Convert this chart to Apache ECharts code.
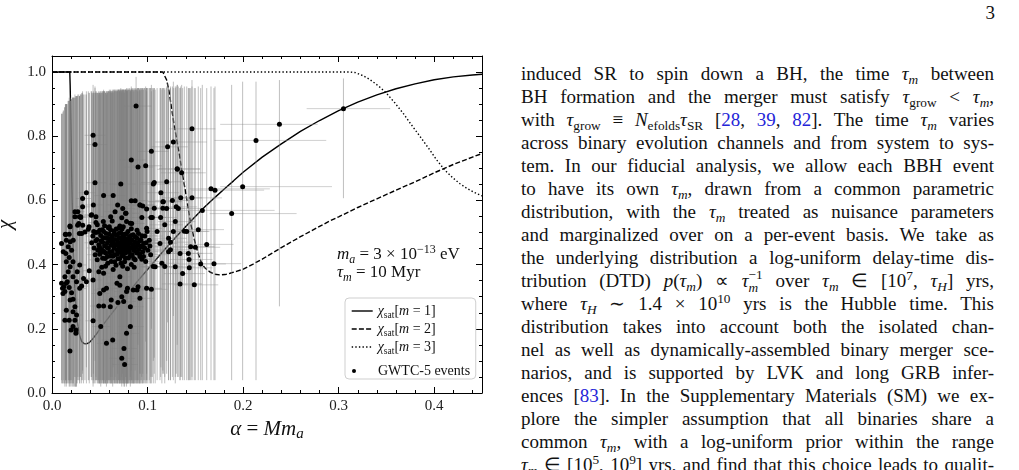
<!DOCTYPE html>
<html>
<head>
<meta charset="utf-8">
<script src="https://cdn.jsdelivr.net/npm/echarts@6/dist/echarts.min.js"></script>
<style>
html, body { margin: 0; padding: 0; background: #fff; }
#page { position: relative; width: 1019px; height: 470px; overflow: hidden; }
#chart { position: absolute; left: 0; top: 0; width: 500px; height: 470px; }
#pagenum { position: absolute; right: 24px; top: 2px; font: 19px 'Liberation Serif', serif; color: #111; }
#text { position: absolute; left: 521px; top: 62px; width: 473px; font-family: 'Liberation Serif', serif; font-size: 19px; color: #111; }
.ln { height: 23px; line-height: 23px; white-space: nowrap; }
.ln sub { font-size: 70%; vertical-align: -0.28em; line-height: 0; }
.ln sup { font-size: 70%; vertical-align: 0.5em; line-height: 0; }
.ln .c { color: #2424d8; }
.st { display: inline-block; vertical-align: -0.35em; font-size: 70%; line-height: 0.95em; }
.st span { display: block; }
</style>
</head>
<body>
<div id="page">
  <div id="chart"></div>
  <div id="pagenum">3</div>
  <div id="text"></div>
</div>
<script>
var FONT = "'Liberation Serif', 'DejaVu Serif', serif";

// saturation curves chi_sat(alpha)
var m1Curve = [[0, 1], [0.0186, 1], [0.0190, 0.96], [0.0197, 0.85], [0.0204, 0.72], [0.0211, 0.59],
  [0.0218, 0.48], [0.0228, 0.40], [0.0240, 0.32], [0.0255, 0.255], [0.0272, 0.205], [0.0292, 0.175],
  [0.0312, 0.160], [0.0335, 0.154], [0.0360, 0.153], [0.0390, 0.157], [0.0430, 0.170], [0.0470, 0.186],
  [0.052, 0.207], [0.06, 0.238], [0.07, 0.276], [0.08, 0.313], [0.09, 0.350], [0.10, 0.385],
  [0.11, 0.420], [0.12, 0.454], [0.13, 0.487], [0.14, 0.519], [0.15, 0.550], [0.16, 0.580],
  [0.17, 0.608], [0.18, 0.635], [0.19, 0.661], [0.20, 0.688], [0.22, 0.735], [0.24, 0.776],
  [0.26, 0.815], [0.28, 0.849], [0.30, 0.880], [0.32, 0.906], [0.34, 0.929], [0.36, 0.948],
  [0.38, 0.963], [0.40, 0.976], [0.42, 0.985], [0.44, 0.991], [0.45, 0.993]];
var m2Curve = [[0, 1], [0.116, 1], [0.118, 0.995], [0.120, 0.975], [0.1225, 0.94], [0.125, 0.89],
  [0.1275, 0.84], [0.1305, 0.79], [0.1335, 0.74], [0.1357, 0.695], [0.139, 0.64], [0.142, 0.585],
  [0.145, 0.53], [0.148, 0.49], [0.151, 0.455], [0.154, 0.425], [0.1566, 0.404], [0.160, 0.390],
  [0.1653, 0.377], [0.170, 0.370], [0.1758, 0.368], [0.181, 0.369], [0.1863, 0.373], [0.193, 0.379],
  [0.2002, 0.386], [0.21, 0.401], [0.22, 0.417], [0.23, 0.435], [0.24, 0.453], [0.25, 0.470],
  [0.26, 0.487], [0.27, 0.503], [0.28, 0.519], [0.29, 0.535], [0.30, 0.549], [0.32, 0.578],
  [0.34, 0.605], [0.36, 0.632], [0.38, 0.658], [0.40, 0.686], [0.42, 0.712], [0.44, 0.735], [0.45, 0.746]];
var m3Curve = [[0, 1], [0.312, 1], [0.318, 0.998], [0.3258, 0.988], [0.332, 0.978], [0.338, 0.965],
  [0.344, 0.951], [0.350, 0.934], [0.3585, 0.905], [0.3676, 0.871], [0.376, 0.836], [0.385, 0.800],
  [0.394, 0.763], [0.4026, 0.726], [0.411, 0.695], [0.420, 0.669], [0.427, 0.652], [0.434, 0.638],
  [0.442, 0.625], [0.45, 0.614]];

// GWTC-5 events: [alpha, chi, alphaLow, alphaHigh, chiLow, chiHigh]
var eventsUpper = [
  [0.088, 0.894, 0.075, 0.104, 0.62, 0.985], [0.043, 0.803, 0.034, 0.056, 0.25, 0.96],
  [0.045, 0.774, 0.036, 0.058, 0.22, 0.955], [0.045, 0.655, 0.036, 0.057, 0.10, 0.95],
  [0.072, 0.651, 0.060, 0.088, 0.12, 0.95], [0.083, 0.726, 0.070, 0.098, 0.18, 0.955],
  [0.090, 0.704, 0.076, 0.106, 0.15, 0.95], [0.098, 0.708, 0.084, 0.115, 0.16, 0.955],
  [0.104, 0.753, 0.090, 0.122, 0.20, 0.96], [0.121, 0.767, 0.104, 0.142, 0.22, 0.965],
  [0.127, 0.782, 0.108, 0.162, 0.24, 0.97], [0.131, 0.699, 0.112, 0.155, 0.15, 0.96],
  [0.106, 0.651, 0.092, 0.124, 0.10, 0.95], [0.107, 0.656, 0.093, 0.125, 0.11, 0.95],
  [0.120, 0.658, 0.103, 0.140, 0.10, 0.955], [0.114, 0.624, 0.099, 0.133, 0.08, 0.95],
  [0.116, 0.596, 0.101, 0.136, 0.07, 0.95], [0.036, 0.624, 0.028, 0.046, 0.08, 0.94],
  [0.032, 0.606, 0.025, 0.041, 0.07, 0.94], [0.054, 0.615, 0.044, 0.066, 0.08, 0.945],
  [0.064, 0.615, 0.053, 0.077, 0.08, 0.945], [0.083, 0.599, 0.071, 0.097, 0.07, 0.945],
  [0.087, 0.599, 0.075, 0.101, 0.07, 0.945], [0.092, 0.586, 0.079, 0.107, 0.06, 0.945],
  [0.095, 0.583, 0.082, 0.110, 0.06, 0.945], [0.107, 0.576, 0.093, 0.124, 0.06, 0.95],
  [0.116, 0.576, 0.100, 0.134, 0.06, 0.95], [0.130, 0.580, 0.112, 0.152, 0.06, 0.955],
  [0.105, 0.547, 0.091, 0.122, 0.05, 0.95], [0.094, 0.547, 0.081, 0.109, 0.05, 0.945],
  [0.077, 0.560, 0.065, 0.091, 0.05, 0.945], [0.073, 0.546, 0.062, 0.086, 0.05, 0.945],
  [0.066, 0.565, 0.055, 0.079, 0.05, 0.945], [0.074, 0.575, 0.063, 0.087, 0.06, 0.945],
  [0.078, 0.534, 0.066, 0.092, 0.05, 0.94], [0.082, 0.529, 0.070, 0.096, 0.05, 0.94],
  [0.063, 0.536, 0.053, 0.075, 0.05, 0.94], [0.055, 0.521, 0.046, 0.066, 0.04, 0.94],
  [0.046, 0.531, 0.038, 0.056, 0.04, 0.94], [0.046, 0.549, 0.038, 0.056, 0.05, 0.94],
  [0.041, 0.554, 0.033, 0.050, 0.05, 0.94], [0.030, 0.549, 0.024, 0.038, 0.05, 0.93],
  [0.027, 0.565, 0.021, 0.034, 0.05, 0.93], [0.024, 0.549, 0.019, 0.031, 0.05, 0.93],
  [0.032, 0.580, 0.025, 0.040, 0.06, 0.935], [0.028, 0.528, 0.022, 0.035, 0.04, 0.93],
  [0.019, 0.518, 0.015, 0.025, 0.04, 0.92], [0.014, 0.495, 0.011, 0.019, 0.04, 0.90],
  [0.018, 0.495, 0.014, 0.023, 0.04, 0.92], [0.038, 0.510, 0.031, 0.047, 0.04, 0.94],
  [0.031, 0.497, 0.025, 0.039, 0.04, 0.935], [0.050, 0.507, 0.041, 0.061, 0.04, 0.94],
  [0.060, 0.518, 0.050, 0.072, 0.04, 0.94], [0.070, 0.513, 0.059, 0.083, 0.04, 0.945],
  [0.089, 0.507, 0.076, 0.104, 0.04, 0.945], [0.099, 0.513, 0.085, 0.115, 0.04, 0.95],
  [0.110, 0.503, 0.095, 0.127, 0.04, 0.95], [0.118, 0.524, 0.102, 0.137, 0.05, 0.95],
  [0.129, 0.534, 0.111, 0.150, 0.05, 0.955], [0.0433, 0.586, 0.035, 0.053, 0.06, 0.94],
  [0.0687, 0.586, 0.057, 0.081, 0.06, 0.945], [0.0774, 0.560, 0.065, 0.091, 0.05, 0.945],
  [0.0921, 0.586, 0.078, 0.107, 0.06, 0.945], [0.099, 0.573, 0.085, 0.115, 0.06, 0.95],
  [0.1165, 0.596, 0.100, 0.135, 0.06, 0.95], [0.120, 0.575, 0.103, 0.139, 0.06, 0.95],
  [0.1137, 0.547, 0.098, 0.131, 0.05, 0.95], [0.1036, 0.547, 0.089, 0.120, 0.05, 0.95],
  [0.0834, 0.528, 0.071, 0.097, 0.04, 0.945], [0.0746, 0.518, 0.063, 0.088, 0.04, 0.945],
  [0.0614, 0.549, 0.051, 0.073, 0.05, 0.94], [0.0537, 0.534, 0.044, 0.064, 0.04, 0.94],
  [0.0415, 0.555, 0.034, 0.050, 0.05, 0.94], [0.0387, 0.518, 0.031, 0.047, 0.04, 0.935]
];
var eventsWide = [
  [0.1465, 0.823, 0.123, 0.171, 0.04, 0.975], [0.2135, 0.787, 0.170, 0.287, 0.04, 0.97],
  [0.238, 0.837, 0.176, 0.278, 0.27, 0.975], [0.1312, 0.697, 0.110, 0.155, 0.05, 0.96],
  [0.1357, 0.686, 0.114, 0.161, 0.05, 0.96], [0.1664, 0.636, 0.144, 0.228, 0.04, 0.955],
  [0.1706, 0.632, 0.146, 0.222, 0.04, 0.955], [0.1995, 0.643, 0.176, 0.293, 0.04, 0.97],
  [0.1347, 0.608, 0.115, 0.157, 0.05, 0.955], [0.1465, 0.608, 0.126, 0.178, 0.05, 0.955],
  [0.126, 0.600, 0.108, 0.147, 0.05, 0.955], [0.1322, 0.575, 0.113, 0.155, 0.05, 0.955],
  [0.1573, 0.569, 0.130, 0.233, 0.04, 0.96], [0.188, 0.559, 0.165, 0.256, 0.04, 0.96],
  [0.1385, 0.504, 0.118, 0.165, 0.04, 0.955], [0.1531, 0.509, 0.130, 0.180, 0.04, 0.955],
  [0.1451, 0.456, 0.124, 0.170, 0.04, 0.95], [0.1500, 0.454, 0.128, 0.176, 0.04, 0.95],
  [0.1619, 0.463, 0.139, 0.190, 0.04, 0.95], [0.134, 0.435, 0.115, 0.158, 0.04, 0.95],
  [0.1427, 0.435, 0.122, 0.168, 0.04, 0.95], [0.1434, 0.416, 0.123, 0.168, 0.04, 0.95],
  [0.1556, 0.402, 0.133, 0.182, 0.04, 0.95], [0.1695, 0.403, 0.146, 0.198, 0.04, 0.95],
  [0.1437, 0.390, 0.123, 0.168, 0.04, 0.95], [0.1367, 0.372, 0.117, 0.160, 0.04, 0.95],
  [0.134, 0.340, 0.115, 0.157, 0.04, 0.95], [0.1489, 0.337, 0.128, 0.174, 0.04, 0.95],
  [0.124, 0.470, 0.106, 0.145, 0.04, 0.955], [0.305, 0.886, 0.2665, 0.354, 0.607, 0.98],
  [0.099, 0.326, 0.085, 0.115, 0.03, 0.94], [0.104, 0.323, 0.089, 0.121, 0.03, 0.94],
  [0.106, 0.394, 0.091, 0.123, 0.03, 0.945], [0.115, 0.404, 0.099, 0.133, 0.03, 0.945],
  [0.118, 0.394, 0.101, 0.137, 0.03, 0.945], [0.122, 0.482, 0.105, 0.141, 0.04, 0.95],
  [0.127, 0.503, 0.109, 0.147, 0.04, 0.95], [0.113, 0.466, 0.097, 0.131, 0.04, 0.95],
  [0.122, 0.440, 0.105, 0.141, 0.04, 0.95], [0.141, 0.503, 0.121, 0.164, 0.04, 0.955],
  [0.129, 0.393, 0.111, 0.150, 0.03, 0.95], [0.108, 0.393, 0.093, 0.125, 0.03, 0.945],
  [0.089, 0.321, 0.076, 0.103, 0.03, 0.94], [0.124, 0.446, 0.107, 0.144, 0.04, 0.95]
];
var eventsLow = [
  [0.039, 0.381, 0.032, 0.047, 0.03, 0.935], [0.033, 0.357, 0.027, 0.040, 0.03, 0.93],
  [0.036, 0.347, 0.029, 0.044, 0.03, 0.93], [0.043, 0.352, 0.035, 0.052, 0.03, 0.935],
  [0.049, 0.378, 0.040, 0.058, 0.03, 0.935], [0.054, 0.373, 0.044, 0.064, 0.03, 0.935],
  [0.057, 0.326, 0.047, 0.068, 0.03, 0.935], [0.054, 0.321, 0.044, 0.064, 0.03, 0.935],
  [0.050, 0.310, 0.041, 0.060, 0.03, 0.935], [0.049, 0.271, 0.040, 0.058, 0.03, 0.93],
  [0.054, 0.271, 0.044, 0.064, 0.03, 0.93], [0.061, 0.269, 0.050, 0.072, 0.03, 0.935],
  [0.062, 0.290, 0.051, 0.074, 0.03, 0.935], [0.069, 0.282, 0.057, 0.082, 0.03, 0.94],
  [0.075, 0.285, 0.062, 0.088, 0.03, 0.94], [0.073, 0.300, 0.060, 0.086, 0.03, 0.94],
  [0.068, 0.342, 0.056, 0.080, 0.03, 0.94], [0.071, 0.362, 0.059, 0.084, 0.03, 0.94],
  [0.078, 0.316, 0.065, 0.092, 0.03, 0.94], [0.085, 0.321, 0.071, 0.100, 0.03, 0.94],
  [0.090, 0.331, 0.076, 0.105, 0.03, 0.94], [0.092, 0.295, 0.078, 0.107, 0.03, 0.94],
  [0.082, 0.269, 0.069, 0.096, 0.03, 0.94], [0.079, 0.326, 0.066, 0.093, 0.03, 0.94],
  [0.071, 0.336, 0.059, 0.084, 0.03, 0.94], [0.043, 0.225, 0.035, 0.052, 0.02, 0.93],
  [0.051, 0.207, 0.042, 0.061, 0.02, 0.93], [0.057, 0.155, 0.047, 0.068, 0.02, 0.93],
  [0.0635, 0.165, 0.052, 0.076, 0.02, 0.935], [0.073, 0.108, 0.060, 0.087, 0.02, 0.935],
  [0.076, 0.089, 0.063, 0.090, 0.02, 0.935], [0.0753, 0.139, 0.062, 0.089, 0.02, 0.935],
  [0.078, 0.186, 0.065, 0.092, 0.02, 0.94], [0.082, 0.207, 0.069, 0.096, 0.02, 0.94]
];
var eventsLeft = [
  [0.015, 0.476, 0.011, 0.020, 0.04, 0.90], [0.019, 0.471, 0.015, 0.024, 0.04, 0.91],
  [0.017, 0.456, 0.013, 0.022, 0.04, 0.91], [0.0145, 0.435, 0.011, 0.019, 0.04, 0.90],
  [0.018, 0.422, 0.014, 0.023, 0.04, 0.91], [0.0205, 0.445, 0.016, 0.026, 0.04, 0.915],
  [0.015, 0.409, 0.011, 0.020, 0.03, 0.90], [0.019, 0.393, 0.015, 0.024, 0.03, 0.91],
  [0.017, 0.378, 0.013, 0.022, 0.03, 0.91], [0.0135, 0.362, 0.010, 0.018, 0.03, 0.89],
  [0.016, 0.347, 0.012, 0.021, 0.03, 0.90], [0.0124, 0.331, 0.010, 0.016, 0.03, 0.88],
  [0.018, 0.329, 0.014, 0.023, 0.03, 0.91], [0.0205, 0.312, 0.016, 0.026, 0.03, 0.915],
  [0.015, 0.342, 0.011, 0.020, 0.03, 0.90], [0.022, 0.362, 0.017, 0.028, 0.03, 0.92],
  [0.0257, 0.347, 0.020, 0.032, 0.03, 0.925], [0.029, 0.326, 0.023, 0.036, 0.03, 0.925],
  [0.031, 0.333, 0.025, 0.038, 0.03, 0.93], [0.0264, 0.378, 0.021, 0.033, 0.03, 0.925],
  [0.029, 0.399, 0.023, 0.036, 0.03, 0.925], [0.022, 0.409, 0.017, 0.028, 0.03, 0.92],
  [0.0135, 0.316, 0.010, 0.018, 0.03, 0.89], [0.019, 0.290, 0.015, 0.024, 0.03, 0.91],
  [0.022, 0.292, 0.017, 0.028, 0.03, 0.92], [0.024, 0.269, 0.019, 0.030, 0.02, 0.92],
  [0.022, 0.253, 0.017, 0.028, 0.02, 0.92], [0.015, 0.258, 0.011, 0.020, 0.02, 0.90],
  [0.0257, 0.243, 0.020, 0.032, 0.02, 0.925], [0.024, 0.227, 0.019, 0.030, 0.02, 0.92],
  [0.0135, 0.227, 0.010, 0.018, 0.02, 0.89], [0.018, 0.227, 0.014, 0.023, 0.02, 0.91],
  [0.022, 0.207, 0.017, 0.028, 0.02, 0.92], [0.025, 0.196, 0.020, 0.031, 0.02, 0.925],
  [0.020, 0.196, 0.016, 0.025, 0.02, 0.915], [0.025, 0.186, 0.020, 0.031, 0.02, 0.925],
  [0.0188, 0.131, 0.015, 0.024, 0.02, 0.91], [0.010, 0.342, 0.008, 0.013, 0.03, 0.87],
  [0.011, 0.326, 0.008, 0.014, 0.03, 0.87], [0.0115, 0.310, 0.009, 0.015, 0.03, 0.875],
  [0.0143, 0.494, 0.011, 0.019, 0.04, 0.90], [0.0188, 0.520, 0.015, 0.024, 0.04, 0.91],
  [0.024, 0.565, 0.019, 0.030, 0.05, 0.92], [0.0268, 0.523, 0.021, 0.033, 0.04, 0.925],
  [0.0286, 0.549, 0.023, 0.035, 0.05, 0.925], [0.0321, 0.523, 0.026, 0.040, 0.04, 0.93],
  [0.030, 0.547, 0.024, 0.037, 0.05, 0.93], [0.0345, 0.502, 0.028, 0.042, 0.04, 0.93],
  [0.0286, 0.497, 0.023, 0.035, 0.04, 0.925], [0.0222, 0.476, 0.017, 0.028, 0.04, 0.92],
  [0.010, 0.466, 0.008, 0.013, 0.04, 0.87], [0.0118, 0.440, 0.009, 0.015, 0.04, 0.88]
];
var eventsCluster = [
  [0.047, 0.478, 0.039, 0.057, 0.04, 0.935], [0.049, 0.462, 0.040, 0.059, 0.04, 0.935],
  [0.051, 0.491, 0.042, 0.062, 0.04, 0.94], [0.052, 0.447, 0.043, 0.063, 0.03, 0.935],
  [0.053, 0.470, 0.044, 0.064, 0.04, 0.94], [0.054, 0.503, 0.045, 0.065, 0.04, 0.94],
  [0.055, 0.458, 0.045, 0.067, 0.03, 0.94], [0.056, 0.436, 0.046, 0.068, 0.03, 0.935],
  [0.057, 0.482, 0.047, 0.069, 0.04, 0.94], [0.058, 0.468, 0.048, 0.070, 0.04, 0.94],
  [0.059, 0.451, 0.049, 0.071, 0.03, 0.94], [0.060, 0.495, 0.050, 0.072, 0.04, 0.945],
  [0.061, 0.427, 0.050, 0.074, 0.03, 0.94], [0.061, 0.474, 0.051, 0.073, 0.04, 0.94],
  [0.062, 0.460, 0.052, 0.074, 0.03, 0.94], [0.063, 0.441, 0.052, 0.076, 0.03, 0.94],
  [0.063, 0.487, 0.053, 0.075, 0.04, 0.945], [0.064, 0.468, 0.053, 0.077, 0.04, 0.94],
  [0.065, 0.452, 0.054, 0.078, 0.03, 0.94], [0.065, 0.505, 0.054, 0.078, 0.04, 0.945],
  [0.066, 0.431, 0.055, 0.079, 0.03, 0.94], [0.066, 0.478, 0.055, 0.079, 0.04, 0.945],
  [0.067, 0.462, 0.056, 0.080, 0.03, 0.94], [0.068, 0.446, 0.057, 0.081, 0.03, 0.94],
  [0.068, 0.492, 0.057, 0.081, 0.04, 0.945], [0.069, 0.470, 0.057, 0.083, 0.04, 0.945],
  [0.069, 0.418, 0.057, 0.083, 0.03, 0.94], [0.070, 0.457, 0.058, 0.084, 0.03, 0.945],
  [0.070, 0.483, 0.058, 0.084, 0.04, 0.945], [0.071, 0.439, 0.059, 0.085, 0.03, 0.94],
  [0.071, 0.466, 0.059, 0.085, 0.04, 0.945], [0.072, 0.499, 0.060, 0.086, 0.04, 0.945],
  [0.072, 0.450, 0.060, 0.086, 0.03, 0.945], [0.073, 0.475, 0.061, 0.087, 0.04, 0.945],
  [0.073, 0.427, 0.061, 0.087, 0.03, 0.94], [0.074, 0.461, 0.062, 0.088, 0.03, 0.945],
  [0.074, 0.488, 0.062, 0.088, 0.04, 0.945], [0.075, 0.444, 0.063, 0.089, 0.03, 0.945],
  [0.075, 0.470, 0.063, 0.089, 0.04, 0.945], [0.076, 0.455, 0.064, 0.090, 0.03, 0.945],
  [0.076, 0.409, 0.064, 0.090, 0.03, 0.94], [0.077, 0.481, 0.065, 0.091, 0.04, 0.945],
  [0.077, 0.436, 0.065, 0.091, 0.03, 0.945], [0.078, 0.463, 0.066, 0.092, 0.03, 0.945],
  [0.078, 0.496, 0.066, 0.092, 0.04, 0.95], [0.079, 0.448, 0.067, 0.093, 0.03, 0.945],
  [0.079, 0.472, 0.067, 0.093, 0.04, 0.945], [0.080, 0.421, 0.068, 0.094, 0.03, 0.945],
  [0.080, 0.458, 0.068, 0.094, 0.03, 0.945], [0.081, 0.485, 0.069, 0.095, 0.04, 0.95],
  [0.081, 0.440, 0.069, 0.095, 0.03, 0.945], [0.082, 0.467, 0.070, 0.096, 0.04, 0.945],
  [0.083, 0.452, 0.070, 0.098, 0.03, 0.945], [0.083, 0.400, 0.070, 0.098, 0.03, 0.94],
  [0.084, 0.476, 0.071, 0.099, 0.04, 0.95], [0.084, 0.431, 0.071, 0.099, 0.03, 0.945],
  [0.085, 0.460, 0.072, 0.100, 0.03, 0.945], [0.085, 0.493, 0.072, 0.100, 0.04, 0.95],
  [0.086, 0.444, 0.073, 0.101, 0.03, 0.945], [0.087, 0.470, 0.074, 0.102, 0.04, 0.95],
  [0.087, 0.415, 0.074, 0.102, 0.03, 0.945], [0.088, 0.455, 0.075, 0.103, 0.03, 0.945],
  [0.089, 0.482, 0.075, 0.105, 0.04, 0.95], [0.089, 0.436, 0.075, 0.105, 0.03, 0.945],
  [0.090, 0.462, 0.076, 0.106, 0.03, 0.95], [0.091, 0.447, 0.077, 0.107, 0.03, 0.95],
  [0.092, 0.474, 0.078, 0.108, 0.04, 0.95], [0.092, 0.425, 0.078, 0.108, 0.03, 0.945],
  [0.093, 0.458, 0.079, 0.109, 0.03, 0.95], [0.094, 0.490, 0.080, 0.110, 0.04, 0.95],
  [0.095, 0.440, 0.081, 0.111, 0.03, 0.95], [0.096, 0.466, 0.082, 0.112, 0.04, 0.95],
  [0.097, 0.452, 0.083, 0.113, 0.03, 0.95], [0.098, 0.410, 0.084, 0.114, 0.03, 0.945],
  [0.058, 0.425, 0.048, 0.070, 0.03, 0.935], [0.062, 0.410, 0.051, 0.074, 0.03, 0.935],
  [0.067, 0.398, 0.056, 0.080, 0.03, 0.94], [0.074, 0.395, 0.062, 0.088, 0.03, 0.94],
  [0.053, 0.420, 0.044, 0.064, 0.03, 0.935], [0.050, 0.432, 0.041, 0.061, 0.03, 0.935],
  [0.048, 0.445, 0.040, 0.058, 0.03, 0.935], [0.046, 0.500, 0.038, 0.056, 0.04, 0.935],
  [0.059, 0.515, 0.049, 0.071, 0.04, 0.94], [0.071, 0.520, 0.059, 0.085, 0.04, 0.945],
  [0.083, 0.512, 0.070, 0.098, 0.04, 0.945], [0.094, 0.417, 0.080, 0.110, 0.03, 0.945],
  [0.079, 0.387, 0.067, 0.093, 0.03, 0.94], [0.086, 0.392, 0.073, 0.101, 0.03, 0.94],
  [0.064, 0.385, 0.053, 0.077, 0.03, 0.935], [0.056, 0.395, 0.046, 0.068, 0.03, 0.935]
];
var eventsCluster2 = [
  [0.0415, 0.468, 0.034, 0.050, 0.04, 0.935], [0.0428, 0.489, 0.035, 0.052, 0.04, 0.935],
  [0.0441, 0.452, 0.036, 0.053, 0.03, 0.935], [0.0452, 0.431, 0.037, 0.055, 0.03, 0.935],
  [0.0458, 0.474, 0.038, 0.055, 0.04, 0.935], [0.0473, 0.415, 0.039, 0.057, 0.03, 0.935],
  [0.0486, 0.502, 0.040, 0.059, 0.04, 0.94], [0.0497, 0.456, 0.041, 0.060, 0.03, 0.935],
  [0.0509, 0.438, 0.042, 0.061, 0.03, 0.935], [0.0514, 0.474, 0.042, 0.062, 0.04, 0.94],
  [0.0526, 0.509, 0.043, 0.063, 0.04, 0.94], [0.0538, 0.484, 0.044, 0.065, 0.04, 0.94],
  [0.0545, 0.441, 0.045, 0.066, 0.03, 0.94], [0.0557, 0.419, 0.046, 0.067, 0.03, 0.935],
  [0.0566, 0.497, 0.047, 0.068, 0.04, 0.94], [0.0578, 0.453, 0.048, 0.070, 0.03, 0.94],
  [0.0591, 0.481, 0.049, 0.071, 0.04, 0.94], [0.0603, 0.439, 0.050, 0.073, 0.03, 0.94],
  [0.0612, 0.509, 0.051, 0.074, 0.04, 0.945], [0.0624, 0.476, 0.052, 0.075, 0.04, 0.94],
  [0.0637, 0.426, 0.053, 0.077, 0.03, 0.94], [0.0648, 0.494, 0.054, 0.078, 0.04, 0.945],
  [0.0659, 0.462, 0.055, 0.079, 0.03, 0.94], [0.0672, 0.511, 0.056, 0.081, 0.04, 0.945],
  [0.0684, 0.433, 0.057, 0.082, 0.03, 0.94], [0.0697, 0.497, 0.058, 0.084, 0.04, 0.945],
  [0.0708, 0.418, 0.059, 0.085, 0.03, 0.94], [0.0719, 0.483, 0.060, 0.086, 0.04, 0.945],
  [0.0733, 0.511, 0.061, 0.088, 0.04, 0.945], [0.0746, 0.432, 0.062, 0.089, 0.03, 0.945],
  [0.0759, 0.495, 0.063, 0.091, 0.04, 0.945], [0.0768, 0.421, 0.064, 0.092, 0.03, 0.945],
  [0.0782, 0.449, 0.065, 0.094, 0.03, 0.945], [0.0795, 0.503, 0.066, 0.095, 0.04, 0.95],
  [0.0807, 0.477, 0.067, 0.097, 0.04, 0.945], [0.0818, 0.428, 0.068, 0.098, 0.03, 0.945],
  [0.0829, 0.491, 0.069, 0.099, 0.04, 0.95], [0.0843, 0.451, 0.070, 0.101, 0.03, 0.945],
  [0.0856, 0.419, 0.071, 0.102, 0.03, 0.945], [0.0868, 0.487, 0.072, 0.104, 0.04, 0.95],
  [0.0879, 0.441, 0.073, 0.105, 0.03, 0.945], [0.0892, 0.468, 0.074, 0.107, 0.04, 0.95],
  [0.0905, 0.497, 0.075, 0.108, 0.04, 0.95], [0.0917, 0.433, 0.076, 0.110, 0.03, 0.945],
  [0.0931, 0.477, 0.077, 0.111, 0.04, 0.95], [0.0946, 0.456, 0.079, 0.113, 0.03, 0.95],
  [0.0958, 0.425, 0.080, 0.114, 0.03, 0.945], [0.0971, 0.489, 0.081, 0.116, 0.04, 0.95],
  [0.0986, 0.468, 0.082, 0.118, 0.04, 0.95], [0.1003, 0.445, 0.084, 0.120, 0.03, 0.95],
  [0.1018, 0.476, 0.085, 0.121, 0.04, 0.95], [0.1032, 0.431, 0.086, 0.123, 0.03, 0.95],
  [0.0995, 0.503, 0.083, 0.119, 0.04, 0.95], [0.1024, 0.458, 0.085, 0.122, 0.03, 0.95],
  [0.0437, 0.503, 0.036, 0.052, 0.04, 0.935], [0.0474, 0.524, 0.039, 0.057, 0.04, 0.935],
  [0.0521, 0.392, 0.043, 0.062, 0.03, 0.935], [0.0583, 0.404, 0.048, 0.070, 0.03, 0.935],
  [0.0655, 0.409, 0.054, 0.078, 0.03, 0.94], [0.0722, 0.404, 0.060, 0.086, 0.03, 0.94]
];
var events = eventsUpper.concat(eventsWide, eventsLow, eventsLeft, eventsCluster, eventsCluster2);

var xMin = 0, xMax = 0.45, xStep = 0.1;
var yMin = 0, yMax = 1.05, yStep = 0.2;

var bodyLines = [
  'induced SR to spin down a BH, the time <i>τ</i><sub><i>m</i></sub> between',
  'BH formation and the merger must satisfy <i>τ</i><sub>grow</sub> &lt; <i>τ</i><sub><i>m</i></sub>,',
  'with <i>τ</i><sub>grow</sub> ≡ <i>N</i><sub>efolds</sub><i>τ</i><sub>SR</sub> [<span class="c">28</span>, <span class="c">39</span>, <span class="c">82</span>]. The time <i>τ</i><sub><i>m</i></sub> varies',
  'across binary evolution channels and from system to sys-',
  'tem. In our fiducial analysis, we allow each BBH event',
  'to have its own <i>τ</i><sub><i>m</i></sub>, drawn from a common parametric',
  'distribution, with the <i>τ</i><sub><i>m</i></sub> treated as nuisance parameters',
  'and marginalized over on a per-event basis. We take as',
  'the underlying distribution a log-uniform delay-time dis-',
  'tribution (DTD) <i>p</i>(<i>τ</i><sub><i>m</i></sub>) ∝ <i>τ</i><span class="st"><span>−1</span><span><i>m</i></span></span> over <i>τ</i><sub><i>m</i></sub> ∈ [10<sup>7</sup>, <i>τ</i><sub><i>H</i></sub>] yrs,',
  'where <i>τ</i><sub><i>H</i></sub> ∼ 1.4 × 10<sup>10</sup> yrs is the Hubble time. This',
  'distribution takes into account both the isolated chan-',
  'nel as well as dynamically-assembled binary merger sce-',
  'narios, and is supported by LVK and long GRB infer-',
  'ences [<span class="c">83</span>]. In the Supplementary Materials (SM) we ex-',
  'plore the simpler assumption that all binaries share a',
  'common <i>τ</i><sub><i>m</i></sub>, with a log-uniform prior within the range',
  '<i>τ</i><sub><i>m</i></sub> ∈ [10<sup>5</sup>, 10<sup>9</sup>] yrs, and find that this choice leads to qualit-'
];

// text column, each line justified to the column width
var textBox = document.getElementById('text');
bodyLines.forEach(function (html) {
  var ln = document.createElement('div');
  ln.className = 'ln';
  ln.innerHTML = '<span>' + html + '</span>';
  textBox.appendChild(ln);
});
document.querySelectorAll('.ln').forEach(function (ln) {
  var span = ln.firstChild;
  var w = span.getBoundingClientRect().width;
  var n = (span.textContent.match(/ /g) || []).length;
  if (n) span.style.wordSpacing = ((473 - w) / n) + 'px';
});

function renderErrorBar(params, api) {
  var x = api.value(0), y = api.value(1);
  var vLo = api.coord([x, api.value(4)]), vHi = api.coord([x, api.value(5)]);
  var hLo = api.coord([api.value(2), y]), hHi = api.coord([api.value(3), y]);
  return {
    type: 'group',
    children: [
      { type: 'line', shape: { x1: vLo[0], y1: vLo[1], x2: vHi[0], y2: vHi[1] },
        style: { stroke: 'rgba(128,128,128,0.5)', lineWidth: 1 } },
      { type: 'line', shape: { x1: hLo[0], y1: hLo[1], x2: hHi[0], y2: hHi[1] },
        style: { stroke: 'rgba(150,150,150,0.45)', lineWidth: 1 } }
    ]
  };
}

var legendNames = {
  m1: '{c|χ}{s|sat}{n|[}{c|m}{n| = 1]}',
  m2: '{c|χ}{s|sat}{n|[}{c|m}{n| = 2]}',
  m3: '{c|χ}{s|sat}{n|[}{c|m}{n| = 3]}'
};
var legendRich = {
  c: { fontFamily: FONT, fontStyle: 'italic', fontSize: 14, lineHeight: 18 },
  n: { fontFamily: FONT, fontSize: 14, lineHeight: 18 },
  s: { fontFamily: FONT, fontSize: 9.5, lineHeight: 10, verticalAlign: 'bottom' },
  p: { fontFamily: FONT, fontSize: 14, lineHeight: 18, padding: [0, 0, 0, 15] }
};
var annRich = {
  i: { fontFamily: FONT, fontStyle: 'italic', fontSize: 17, lineHeight: 22 },
  n: { fontFamily: FONT, fontSize: 17, lineHeight: 22 },
  s: { fontFamily: FONT, fontStyle: 'italic', fontSize: 12, lineHeight: 11, verticalAlign: 'bottom' },
  p: { fontFamily: FONT, fontSize: 12, lineHeight: 11, verticalAlign: 'top' }
};

function axisBase(pos, isX, showLabel) {
  return {
    type: 'value',
    position: pos,
    min: isX ? xMin : yMin,
    max: isX ? xMax : yMax,
    interval: isX ? xStep : yStep,
    axisLine: { show: true, onZero: false, lineStyle: { color: '#000', width: 1 } },
    axisTick: { show: true, inside: true, length: 6, lineStyle: { color: '#000', width: 1 } },
    minorTick: { show: true, splitNumber: isX ? 5 : 4, length: 3, lineStyle: { color: '#000', width: 1 } },
    splitLine: { show: false },
    minorSplitLine: { show: false },
    axisLabel: {
      show: showLabel,
      showMinLabel: true,
      showMaxLabel: false,
      margin: 6,
      fontFamily: FONT,
      fontSize: 15,
      color: '#222',
      formatter: function (v) { return v.toFixed(1); }
    }
  };
}

var xBottom = axisBase('bottom', true, true);
xBottom.name = '{i|α}{n| = }{i|Mm}{s|a}';
xBottom.nameLocation = 'middle';
xBottom.nameGap = 19;
xBottom.nameTextStyle = {
  rich: {
    i: { fontFamily: FONT, fontStyle: 'italic', fontSize: 21, lineHeight: 25, color: '#111' },
    n: { fontFamily: FONT, fontSize: 21, lineHeight: 25, color: '#111' },
    s: { fontFamily: FONT, fontStyle: 'italic', fontSize: 15, lineHeight: 13, verticalAlign: 'bottom', color: '#111' }
  }
};
var xTop = axisBase('top', true, false);
var yLeft = axisBase('left', false, true);
yLeft.name = 'χ';
yLeft.nameLocation = 'middle';
yLeft.nameRotate = 90;
yLeft.nameGap = 28;
yLeft.nameTextStyle = { fontFamily: FONT, fontStyle: 'italic', fontSize: 21, color: '#111' };
var yRight = axisBase('right', false, false);

var chart = echarts.init(document.getElementById('chart'));
chart.setOption({
  animation: false,
  backgroundColor: '#fff',
  grid: { left: 52, right: 18, top: 56, bottom: 77, containLabel: false, outerBoundsMode: 'none' },
  xAxis: [xBottom, xTop],
  yAxis: [yLeft, yRight],
  legend: [{
    data: ['m1', 'm2', 'm3'],
    orient: 'vertical',
    left: 345, top: 298,
    padding: [6, 40, 23, 6],
    itemWidth: 21, itemHeight: 10, itemGap: 2,
    selectedMode: false,
    backgroundColor: 'rgba(255,255,255,0.85)',
    borderColor: '#cfcfcf', borderWidth: 1, borderRadius: 4,
    itemStyle: { opacity: 0 },
    lineStyle: { width: 1.4, color: '#000', opacity: 1 },
    formatter: function (name) { return legendNames[name]; },
    textStyle: { color: '#111', rich: legendRich }
  }, {
    data: [{ name: 'events', icon: 'circle' }],
    left: 352, top: 364,
    padding: 0,
    itemWidth: 8, itemHeight: 4,
    selectedMode: false,
    formatter: function () { return '{p|GWTC-5 events}'; },
    textStyle: { color: '#111', rich: legendRich }
  }],
  graphic: [
    { type: 'text', left: 337, top: 244, z: 10,
      style: { text: '{i|m}{s|a}{n| = 3 × 10}{p|−13}{n| eV}', rich: annRich, fill: '#111' } },
    { type: 'text', left: 337, top: 264, z: 10,
      style: { text: '{i|τ}{s|m}{n| = 10 Myr}', rich: annRich, fill: '#111' } }
  ],
  series: [
    { name: 'm3', type: 'line', data: m3Curve, symbol: 'none', showSymbol: false, z: 1, clip: true,
      itemStyle: { color: '#000' }, lineStyle: { color: '#000', width: 1.4, type: [1.4, 2.2] } },
    { name: 'm2', type: 'line', data: m2Curve, symbol: 'none', showSymbol: false, z: 1, clip: true,
      itemStyle: { color: '#000' }, lineStyle: { color: '#000', width: 1.4, type: [5, 2.2] } },
    { name: 'm1', type: 'line', data: m1Curve, symbol: 'none', showSymbol: false, z: 1, clip: true,
      itemStyle: { color: '#000' }, lineStyle: { color: '#000', width: 1.4, type: 'solid' } },
    { name: 'bars', type: 'custom', data: events, renderItem: renderErrorBar, z: 2, clip: true, silent: true,
      encode: { x: 0, y: 1 } },
    { name: 'events', type: 'scatter', data: events.map(function (r) { return [r[0], r[1]]; }),
      symbol: 'circle', symbolSize: 5, z: 3, itemStyle: { color: '#000', opacity: 1 } }
  ]
});
</script>
</body>
</html>
